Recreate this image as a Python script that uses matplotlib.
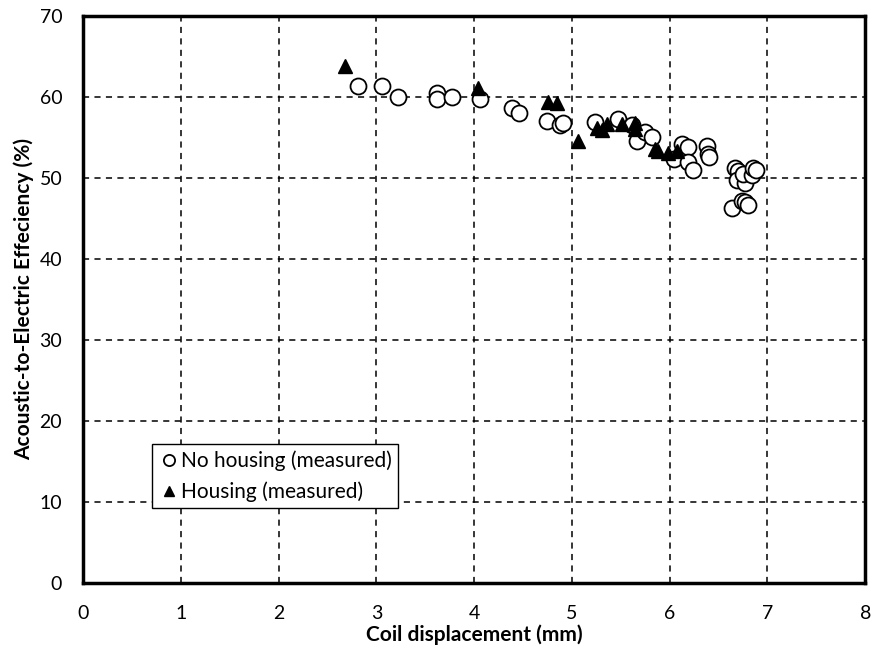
import matplotlib.pyplot as plt

plt.rcParams['font.family'] = ['Lato', 'DejaVu Sans']

# No housing (measured) - open circles
no_housing_x = [2.81, 3.06, 3.22, 3.62, 3.62, 3.77, 4.06, 4.39, 4.46, 4.75, 4.88, 4.91,
                5.24, 5.47, 5.62, 5.67, 5.75, 5.82, 6.04, 6.13, 6.19, 6.19, 6.24, 6.38,
                6.39, 6.40, 6.67, 6.70, 6.69, 6.77, 6.75, 6.84, 6.85, 6.88, 6.64, 6.74,
                6.77, 6.80]
no_housing_y = [61.4, 61.3, 60.0, 60.5, 59.7, 60.0, 59.8, 58.6, 58.0, 57.0, 56.5, 56.8,
                56.9, 57.3, 56.5, 54.6, 55.7, 55.0, 52.3, 54.2, 53.8, 52.0, 51.0, 54.0,
                53.0, 52.6, 51.2, 50.8, 49.8, 49.4, 50.5, 50.4, 51.2, 51.0, 46.3, 47.2,
                47.0, 46.6]

# Housing (measured) - filled triangles
housing_x = [2.68, 4.04, 4.76, 4.85, 5.06, 5.26, 5.31, 5.36, 5.51, 5.65, 5.65, 5.85,
             5.88, 5.98, 6.08]
housing_y = [63.8, 61.1, 59.4, 59.3, 54.6, 56.2, 55.9, 56.6, 56.7, 56.8, 56.0, 53.6,
             53.3, 53.1, 53.3]

fig = plt.figure(figsize=(8.72, 6.52), dpi=100)
ax = fig.add_axes([0.0952, 0.106, 0.897, 0.8695])

ax.plot(no_housing_x, no_housing_y, 'o', ms=11.5, mfc='white', mec='black', mew=1.3,
        label='No housing (measured)', zorder=3)
ax.plot(housing_x, housing_y, '^', ms=10.5, mfc='black', mec='black',
        label='Housing (measured)', zorder=4)

ax.set_xlim(0, 8)
ax.set_ylim(0, 70)
ax.set_xticks(range(0, 9))
ax.set_yticks(range(0, 71, 10))
ax.grid(True, color='black', linestyle=(0, (4, 3.5)), linewidth=1.1)
ax.set_axisbelow(True)
ax.tick_params(length=0, labelsize=14)
ax.tick_params(axis='x', pad=16)
ax.tick_params(axis='y', pad=15)
for s in ax.spines.values():
    s.set_linewidth(2.5)

ax.set_xlabel('Coil displacement (mm)', fontsize=15, fontweight='bold', labelpad=1.5)
ax.set_ylabel('Acoustic-to-Electric Effeciency (%)', fontsize=15, fontweight='bold', labelpad=4)

leg = ax.legend(loc='lower left', bbox_to_anchor=(0.088, 0.132), fontsize=15,
                markerscale=0.7, handletextpad=0.1, handlelength=1.0,
                borderpad=0.3, labelspacing=0.5, fancybox=False, framealpha=1,
                borderaxespad=0)
leg.get_frame().set_edgecolor('black')
leg.get_frame().set_linewidth(1.0)

fig.savefig('out.png', dpi=100)
